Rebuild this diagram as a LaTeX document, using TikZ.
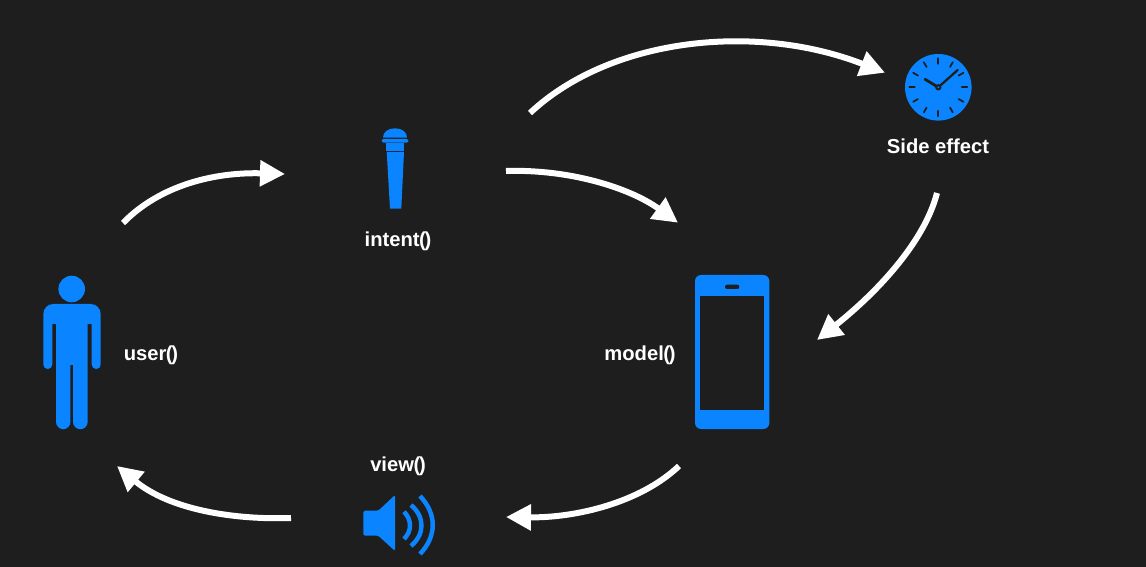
\documentclass[tikz,border=0pt]{standalone}
\usepackage{fontspec}
\setmainfont{Liberation Sans}
\usetikzlibrary{arrows.meta}
\definecolor{bgdark}{HTML}{1E1E1E}
\definecolor{iconblue}{HTML}{0A84FF}
\newcommand{\callparens}{\kern-0.3pt(\kern-0.7pt)}
\tikzset{
    flowarrow/.style={draw=white,line width=0.12cm,-{Triangle[length=0.5cm,width=0.5cm]}},
    caption/.style={text=white,font=\fontsize{11.5}{13}\selectfont\bfseries,inner sep=0pt},
    icon/.style={fill=iconblue},
    tick/.style={draw=bgdark,line width=0.035cm,line cap=round},
    wave/.style={draw=iconblue,line width=0.09cm},
}
\begin{document}
\begin{tikzpicture}[x=0.02cm,y=-0.02cm]
            \fill[bgdark] (0,0) rectangle (1146,567);
            \useasboundingbox (0,0) rectangle (1146,567);

            \node[caption] (usercap) at (151,355) {user\callparens};
            \node[caption] (intentcap) at (398,241) {intent\callparens};
            \node[caption] (sidecap) at (938,146) {Side effect};
            \node[caption] (viewcap) at (398,466) {view\callparens};
            \node[caption] (modelcap) at (640,355) {model\callparens};

            \fill[icon] (71.7,289) circle (13.3);
            \fill[icon] (56,324) -- (52.3,324) [rounded corners=0.088cm] -- (52.3,369) -- (43.3,369) [rounded corners=0.2cm] -- (43.3,304) -- (100.7,304) [rounded corners=0.088cm] -- (100.7,369) -- (91.7,369) [sharp corners] -- (91.7,324) -- (87.7,324) [rounded corners=0.15cm] -- (87.7,429.3) -- (73,429.3) [sharp corners] -- (73,365) -- (70.4,365) [rounded corners=0.15cm] -- (70.4,429.3) -- (56,429.3) [sharp corners] -- cycle;

            \fill[icon] (383,137.7) .. controls (383,132) and (388,128.3) .. (395,128.3) .. controls (402,128.3) and (407,132) .. (407,137.7) -- cycle;
            \fill[icon,rounded corners=0.03cm] (381.7,139) rectangle (408.3,142.7);
            \fill[icon] (386,142.7) rectangle (404,151);
            \fill[icon] (386.7,151.8) -- (404,151.8) -- (401.3,208.7) -- (390,208.7) -- cycle;

            \fill[icon] (938.3,87.3) circle (33.3);
            \foreach \ang in {0,30,...,330} {
                \draw[tick] (938.3,87.3) ++(\ang:23.5) -- ++(\ang:5.5);
            }
            \draw[draw=bgdark,line width=0.055cm,line cap=round] (938.3,87.3) -- (925,79.3);
            \draw[draw=bgdark,line width=0.045cm,line cap=round] (938.3,87.3) -- (957.7,70);
            \fill[bgdark] (938.3,87.3) circle (3.2);
            \fill[icon] (938.3,87.3) circle (1);

            \fill[icon,rounded corners=0.03cm] (363.3,510.7) -- (378.3,510.7) -- (395,495) -- (395,551) -- (378.3,535.7) -- (363.3,535.7) -- cycle;
            \draw[wave] (404,511.7) .. controls (412,520) and (412,531) .. (404,539);
            \draw[wave] (411,505) .. controls (425,517) and (425,534) .. (411,546);
            \draw[wave] (420,496) .. controls (437,514) and (437,536) .. (420,554);

            \fill[icon,rounded corners=0.12cm] (695,275) rectangle (769.3,429);
            \fill[bgdark] (700,296) rectangle (764.3,410);
            \fill[bgdark,rounded corners=0.04cm] (725,284.7) rectangle (739.3,289);

            \coordinate (userout) at (123,223);
            \coordinate (intentin) at (285,174);
            \coordinate (intentout) at (506,171);
            \coordinate (modelin) at (678,222.7);
            \coordinate (sideout) at (937,193);
            \coordinate (modelside) at (817,340);
            \coordinate (intentup) at (530,113);
            \coordinate (sidein) at (885,72.7);
            \coordinate (modelout) at (679,466);
            \coordinate (viewin) at (506,517);
            \coordinate (viewout) at (291,518);
            \coordinate (userin) at (117,466);

            \draw[flowarrow] (userout) .. controls (160,185) and (215,172) .. (intentin);
            \draw[flowarrow] (intentup) .. controls (610,38) and (755,22) .. (sidein);
            \draw[flowarrow] (intentout) .. controls (570,169) and (630,188) .. (modelin);
            \draw[flowarrow] (sideout) .. controls (925,240) and (880,290) .. (modelside);
            \draw[flowarrow] (modelout) .. controls (640,503) and (575,518) .. (viewin);
            \draw[flowarrow] (viewout) .. controls (235,520) and (170,510) .. (userin);
        \end{tikzpicture}
\end{document}
